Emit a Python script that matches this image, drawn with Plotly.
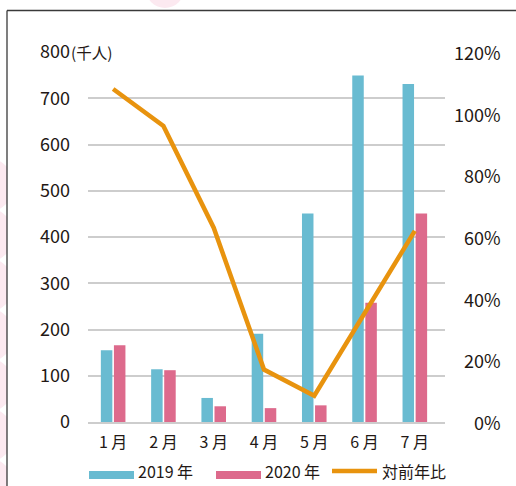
import plotly.graph_objects as go

# Monthly visitors (thousands) and year-on-year ratio (%)
months = ["1 月", "2 月", "3 月", "4 月", "5 月", "6 月", "7 月"]
visitors_2019 = [155, 114, 52, 191, 451, 749, 731]
visitors_2020 = [166, 112, 34, 30, 36, 258, 451]
yoy_ratio = [108, 96, 63, 17, 8.5, 35, 62]

left_ticks = [0, 100, 200, 300, 400, 500, 600, 700, 800]
right_ticks = [0, 20, 40, 60, 80, 100, 120]

BLUE = "#69BBD1"
PINK = "#DD6A8C"
ORANGE = "#E8930E"
GRID = "#CDCDCD"
TEXT = "#231815"
FONT = "Noto Sans CJK JP"

W, H = 516, 486
L, R, T, B = 88, 445, 52, 422  # plot area in pixels


def px(x):
    return (x - L) / (R - L)


def py(y):
    return (B - y) / (B - T)


fig = go.Figure()
fig.add_trace(go.Bar(x=months, y=visitors_2019, name="2019 年", marker_color=BLUE,
                     marker_line_width=0))
fig.add_trace(go.Bar(x=months, y=visitors_2020, name="2020 年", marker_color=PINK,
                     marker_line_width=0))
fig.add_trace(go.Scatter(x=months, y=yoy_ratio, name="対前年比", yaxis="y2",
                         mode="lines", line=dict(color=ORANGE, width=4.5)))

shapes = []
# soft pink decoration behind the frame
for cy in [185, 235, 285, 335, 385, 435, 485]:
    shapes.append(dict(type="circle", xref="paper", yref="paper", layer="below",
                       x0=px(-40), x1=px(14), y0=py(cy - 27), y1=py(cy + 27),
                       fillcolor="#FCE9F0", line_width=0))
shapes.append(dict(type="circle", xref="paper", yref="paper", layer="below",
                   x0=px(146), x1=px(184), y0=py(-30), y1=py(8),
                   fillcolor="#FCE9F0", line_width=0))
# white panel with the frame on top and left
shapes.append(dict(type="rect", xref="paper", yref="paper", layer="below",
                   x0=px(7), x1=px(530), y0=py(10.5), y1=py(500),
                   fillcolor="white", line_width=0))
shapes.append(dict(type="line", xref="paper", yref="paper", layer="above",
                   x0=px(7), x1=px(520), y0=py(10.5), y1=py(10.5),
                   line=dict(color="#3A3A3A", width=1.3)))
shapes.append(dict(type="line", xref="paper", yref="paper", layer="above",
                   x0=px(7), x1=px(7), y0=py(10.5), y1=py(490),
                   line=dict(color="#3A3A3A", width=1.3)))

# legend swatches
shapes.append(dict(type="rect", xref="paper", yref="paper", layer="above",
                   x0=px(89), x1=px(134), y0=py(479), y1=py(471),
                   fillcolor=BLUE, line_width=0))
shapes.append(dict(type="rect", xref="paper", yref="paper", layer="above",
                   x0=px(216), x1=px(261), y0=py(479), y1=py(471),
                   fillcolor=PINK, line_width=0))
shapes.append(dict(type="line", xref="paper", yref="paper", layer="above",
                   x0=px(332), x1=px(377), y0=py(471), y1=py(471),
                   line=dict(color=ORANGE, width=4.5)))

annotations = []
for name, x0 in [(fig.data[0].name, 136), (fig.data[1].name, 263), (fig.data[2].name, 380)]:
    annotations.append(dict(xref="paper", yref="paper", x=px(x0), y=py(471),
                            xanchor="left", yanchor="middle", text=name, showarrow=False,
                            font=dict(family=FONT, size=16, color=TEXT)))

# right-hand percentage scale, right aligned
for v in right_ticks:
    annotations.append(dict(xref="paper", yref="y2", x=px(503), y=v,
                            xanchor="right", yanchor="middle", text=f"{v}%",
                            showarrow=False, font=dict(family=FONT, size=18, color=TEXT)))

# unit next to the top tick
annotations.append(dict(xref="paper", yref="y", x=px(70), y=left_ticks[-1],
                        xanchor="left", yanchor="middle", text="(千人)", showarrow=False,
                        bgcolor="white", borderpad=0,
                        font=dict(family=FONT, size=15.5, color=TEXT)))

fig.update_layout(
    width=W, height=H,
    margin=dict(l=L, r=W - R, t=T, b=H - B, pad=0),
    paper_bgcolor="white", plot_bgcolor="rgba(0,0,0,0)",
    showlegend=False,
    barmode="group", bargap=0.48, bargroupgap=0.12,
    font=dict(family=FONT, color=TEXT),
    xaxis=dict(range=[-0.5, 6.6], showgrid=False, showline=True, linecolor=GRID,
               linewidth=2, ticks="", tickfont=dict(size=16, color=TEXT),
               ticklabelstandoff=5, fixedrange=True),
    yaxis=dict(range=[0, 800], tickvals=left_ticks, showgrid=True, gridcolor=GRID,
               gridwidth=1.6, zeroline=False, ticks="",
               tickfont=dict(size=18, color=TEXT), ticklabelstandoff=17),
    yaxis2=dict(range=[0, 120], overlaying="y", side="right", showgrid=False,
                showticklabels=False, zeroline=False, ticks=""),
    shapes=shapes,
    annotations=annotations,
)

fig.write_html("out.html")
